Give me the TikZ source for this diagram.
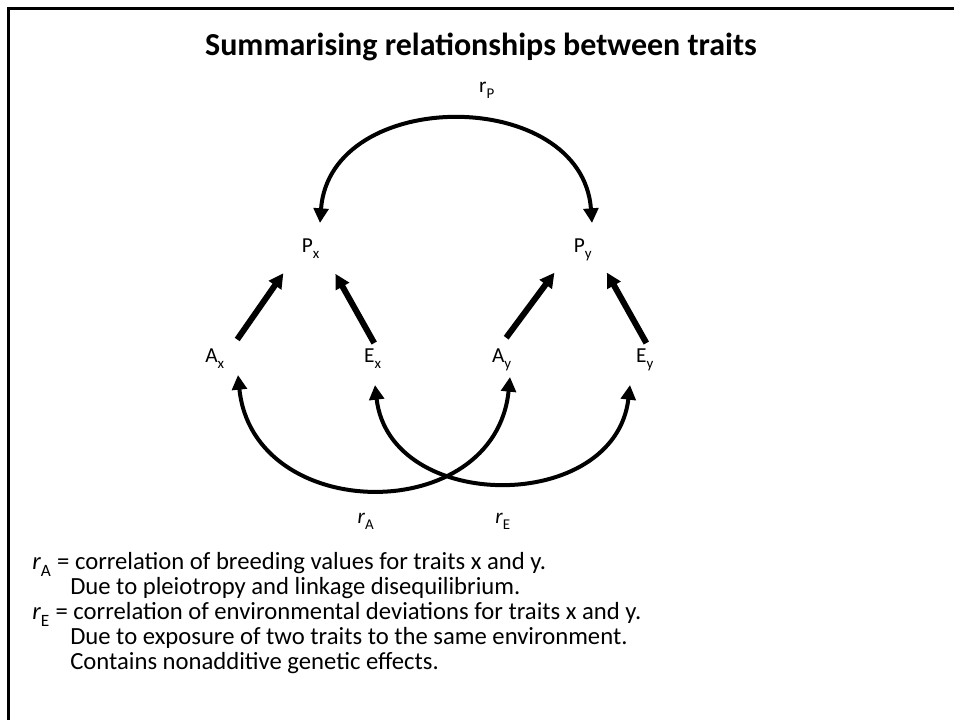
\documentclass[tikz,border=0pt]{standalone}
\usepackage{fontspec}
\setmainfont{Carlito}
\usepackage{tikz}
\usetikzlibrary{%
  calc,%
  arrows.meta%
}
\newcommand{\lowsub}[1]{\raisebox{-0.15em}{\textsubscript{#1}}}

\begin{document}
\begin{tikzpicture}[x=0.75pt,y=-0.75pt,
	lbl/.style={font=\fontsize{16}{19}\selectfont, inner sep=0pt, text height=11pt, text depth=3pt},
	txt/.style={font=\fontsize{18.5}{22}\selectfont, inner sep=0pt, anchor=base west},
	path arrow/.style={-{Triangle[length=11pt,width=11pt]}, line width=4.5pt},
	corr arrow/.style={{Triangle[length=11pt,width=11pt]}-{Triangle[length=11pt,width=11pt]}, line width=3pt}]
	\useasboundingbox (0,0) rectangle (954,720);
	%Frame
	\draw[line width=2.25pt] (8.5,720) -- (8.5,8.5) -- (954,8.5);
	%Title
	\node[font=\fontsize{24}{29}\selectfont\bfseries] (T) at (481,47) {Summarising relationships between traits};
	%Nodes
	\node[lbl] (Px) at (311,247) {P\lowsub{x}};
	\node[lbl] (Py) at (583,247) {P\lowsub{y}};
	\node[lbl] (Ax) at (215,357) {A\lowsub{x}};
	\node[lbl] (Ex) at (373,357) {E\lowsub{x}};
	\node[lbl] (Ay) at (502,357) {A\lowsub{y}};
	\node[lbl] (Ey) at (645,357) {E\lowsub{y}};
	\node[lbl] (rP) at (487,87) {r\lowsub{P}};
	\node[lbl] (rA) at (366,518) {\textit{r}\lowsub{A}};
	\node[lbl] (rE) at (503,518) {\textit{r}\lowsub{E}};
	%Causal arrows
	\draw[path arrow, shorten <=16pt, shorten >=24pt] (Ax.east) -- (Px.west);
	\draw[path arrow, shorten <=12pt, shorten >=23pt] (Ex.east) -- (Px.east);
	\draw[path arrow, shorten <=18pt, shorten >=24pt] (Ay.west) -- (Py.west);
	\draw[path arrow, shorten <=12pt, shorten >=22pt] (Ey.east) -- (Py.east);
	%Correlations
	\draw[corr arrow] ($(Px)+(9,-24)$) .. controls +(10,-137) and +(-10,-137) .. ($(Py)+(9,-24)$);
	\draw[corr arrow] ($(Ax)+(23,18)$) .. controls +(15,150) and +(-15,150) .. ($(Ay)+(8,20)$);
	\draw[corr arrow] ($(Ex)+(2,28)$) .. controls +(15,129) and +(-15,129) .. ($(Ey)+(-15,28)$);
	%Legend
	\node[txt] (L1) at (32,569) {\textit{r}\lowsub{A} = correlation of breeding values for traits x and y.};
	\node[txt] (L2) at (70,594) {Due to pleiotropy and linkage disequilibrium.};
	\node[txt] (L3) at (32,619) {\textit{r}\lowsub{E} = correlation of environmental deviations for traits x and y.};
	\node[txt] (L4) at (70,644) {Due to exposure of two traits to the same environment.};
	\node[txt] (L5) at (70,669) {Contains nonadditive genetic effects.};
\end{tikzpicture}
\end{document}
